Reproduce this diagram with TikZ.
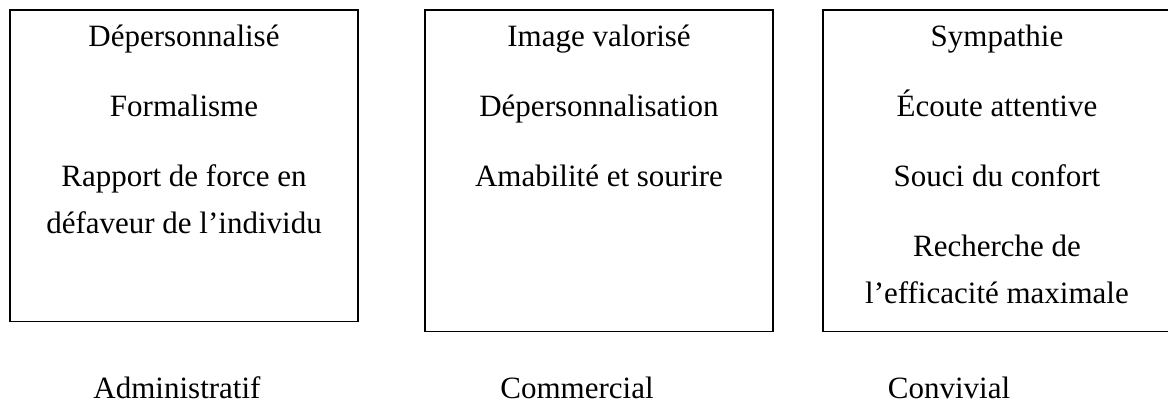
\documentclass[tikz,border=0pt]{standalone}
\usepackage{fontspec}
\setmainfont{Liberation Serif}
\begin{document}
\begin{tikzpicture}[x=0.75pt,y=-0.75pt,
  panel/.style={draw=black, line width=1.1pt, rectangle, inner sep=0pt,
    minimum width=261pt},
  shortpanel/.style={panel, minimum height=233.8pt},
  tallpanel/.style={panel, minimum height=241.3pt},
  txt/.style={inner sep=0pt, anchor=base,
    font=\fontsize{23.25pt}{28pt}\selectfont}]
\useasboundingbox (0,0) rectangle (1168,405);
\clip (0,0) rectangle (1168,405);

% the three panels (the last one runs past the right edge)
\node[shortpanel] (adm) at (184,165.85) {};
\node[tallpanel]  (com) at (599,170.85) {};
\node[tallpanel]  (con) at (997,170.85) {};

% first panel
\node[txt] (a1) at (184,46)  {Dépersonnalisé};
\node[txt] (a2) at (184,116) {Formalisme};
\node[txt] (a3) at (184,186) {Rapport de force en};
\node[txt] (a4) at (184,233) {défaveur de l’individu};

% second panel
\node[txt] (b1) at (599,46)  {Image valorisé};
\node[txt] (b2) at (599,116) {Dépersonnalisation};
\node[txt] (b3) at (599,186) {Amabilité et sourire};

% third panel
\node[txt] (c1) at (997,46)  {Sympathie};
\node[txt] (c2) at (997,116) {Écoute attentive};
\node[txt] (c3) at (997,186) {Souci du confort};
\node[txt] (c4) at (997,256) {Recherche de};
\node[txt] (c5) at (997,303) {l’efficacité maximale};

% captions under the panels
\node[txt] (la) at (177,398) {Administratif};
\node[txt] (lb) at (577,398) {Commercial};
\node[txt] (lc) at (949,398) {Convivial};
\end{tikzpicture}
\end{document}
